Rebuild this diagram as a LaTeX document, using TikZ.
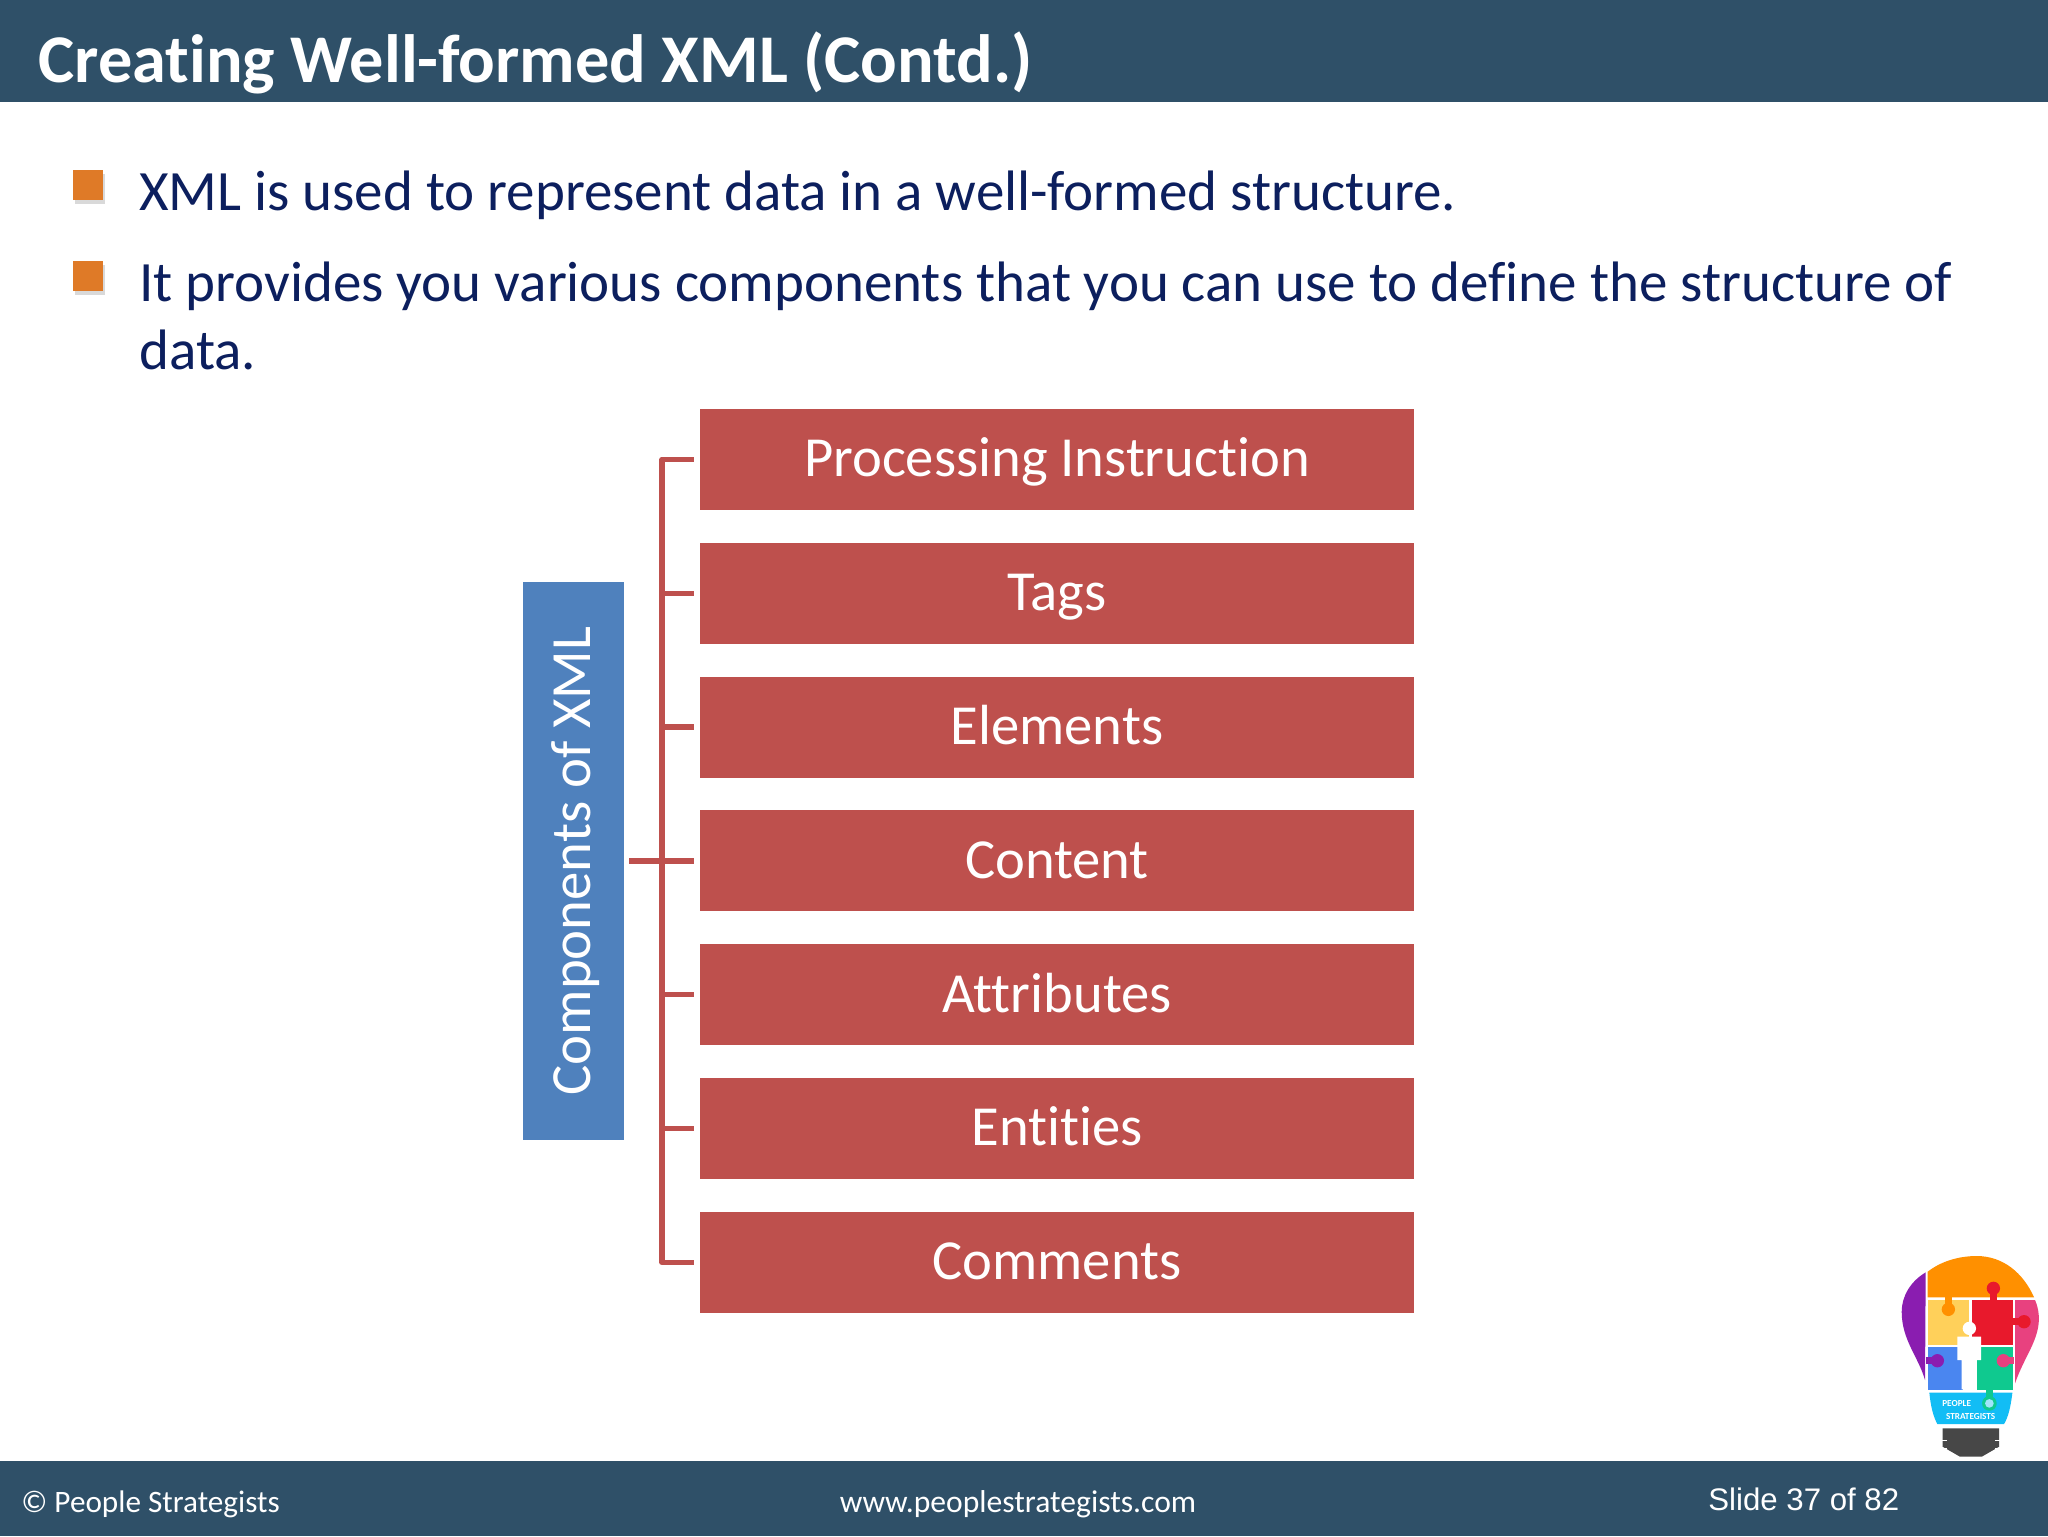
\documentclass[tikz,border=0pt]{standalone}
\usepackage{fontspec}
\setmainfont[Ligatures=NoCommon]{Carlito}
\newfontfamily\arialfont{Liberation Sans}
\definecolor{barblue}{HTML}{2F5068}
\definecolor{boxred}{HTML}{BE504D}
\definecolor{rootblue}{HTML}{4F81BD}
\definecolor{textnavy}{HTML}{0C1F5E}
\definecolor{bulletorange}{HTML}{DF7A27}
\definecolor{logoorange}{HTML}{FF9000}
\definecolor{logoyellow}{HTML}{FFD05A}
\definecolor{logored}{HTML}{E8192C}
\definecolor{logopink}{HTML}{E8417F}
\definecolor{logopurple}{HTML}{8A1DB0}
\definecolor{logoblue}{HTML}{4A86F0}
\definecolor{logogreen}{HTML}{0FC98F}
\definecolor{logocyan}{HTML}{12BDF5}
\tikzset{
  bar/.style={fill=barblue,draw=none},
  bullet/.style={fill=bulletorange,draw=none,minimum size=15pt,inner sep=0pt,anchor=north west},
  bulletshadow/.style={fill=black!15,draw=none,minimum size=15pt,inner sep=0pt,anchor=north west},
  bodytext/.style={anchor=base west,inner sep=0pt,text=textnavy,font=\fontsize{28.5}{34}\selectfont},
  itembox/.style={fill=boxred,text=white,minimum width=357pt,minimum height=50.5pt,inner sep=0pt,text height=21.3pt,text depth=4pt,font=\fontsize{28.3}{34}\selectfont},
  rootbox/.style={fill=rootblue,text=white,rotate=90,minimum width=279pt,minimum height=50.5pt,inner sep=0pt,text height=20.5pt,text depth=4pt,font=\fontsize{28.4}{34}\selectfont},
  branch/.style={draw=boxred,line width=2.75pt,line join=round,shorten <=2.5pt,shorten >=3pt},
  foottext/.style={anchor=base west,inner sep=0pt,text=white,font=\fontsize{15.6}{18}\selectfont},
}
\begin{document}
\begin{tikzpicture}[x=0.5pt,y=-0.5pt]
\useasboundingbox (0,0) rectangle (2048,1536);
\fill[white] (0,0) rectangle (2048,1536);
% header and footer
\fill[bar] (0,0) rectangle (2048,102);
\fill[bar] (0,1461) rectangle (2048,1536);
\node[anchor=base west,inner sep=0pt,text=white,font=\fontsize{34.15}{38}\selectfont\bfseries] (title) at (38,83) {Creating Well-formed XML (Contd.)};
% bullets
\foreach \n/\y in {a/170,b/261} {
  \node[bulletshadow] (shadow\n) at (75,\y+4) {};
  \node[bullet] (bullet\n) at (73,\y) {};
}
\node[bodytext] (linea) at (139,210) {XML is used to represent data in a well-formed structure.};
\node[bodytext] (lineb) at (139,301) {It provides you various components that you can use to define the structure of};
\node[bodytext] (linec) at (139,369) {data.};
% components
\node[rootbox] (root) at (573.5,861) {Components of XML};
\coordinate (trunk) at (662,861);
\foreach \i/\t in {1/Processing Instruction,2/Tags,3/Elements,4/Content,5/Attributes,6/Entities,7/Comments} {
  \node[itembox] (box\i) at (1057,325.7+\i*133.8) {\t};
  \draw[branch] (root.south) -- (trunk) |- (box\i.west);
}
% footer texts
\node[foottext] (copy) at (21,1512) {© People Strategists};
\node[foottext,anchor=base,font=\fontsize{15.8}{18}\selectfont] (web) at (1018,1512) {www.peoplestrategists.com};
\node[anchor=base west,inner sep=0pt,text=white,font=\fontsize{15.6}{18}\selectfont\arialfont] (slide) at (1708,1510) {Slide 37 of 82};
% logo
\begin{scope}[shift={(1880,1240)},x=0.1667pt,y=-0.1667pt]
\fill[black!72] (188,565) -- (357,565) -- (357,620) -- (305,650) -- (240,650) -- (188,620) -- cycle;
\foreach \y in {600,625} \draw[white,line width=0.5pt] (185,\y) -- (200,\y) (345,\y) -- (360,\y);
\fill[logocyan] (148,458) -- (397,458) .. controls (392,500) and (385,530) .. (372,552) -- (172,552) .. controls (160,530) and (152,500) .. (148,458) -- cycle;
\node[inner sep=0pt,text=white,font=\fontsize{4.6}{5}\selectfont\bfseries] (logoa) at (230,490) {PEOPLE};
\node[inner sep=0pt,text=white,font=\fontsize{4.6}{5}\selectfont\bfseries] (logob) at (272,528) {STRATEGISTS};
\fill[logopurple] (137,97) .. controls (90,125) and (65,170) .. (65,215) .. controls (65,300) and (115,350) .. (135,420) -- cycle;
\fill[logoorange] (143,172) -- (143,95) .. controls (185,62) and (240,48) .. (290,48) .. controls (370,48) and (430,100) .. (462,172) -- cycle;
\fill[logoyellow] (143,180) rectangle (268,315);
\fill[logoorange] (205,208) circle (20);
\fill[logoorange] (195,172) rectangle (215,205);
\fill[logored] (275,180) rectangle (400,315);
\fill[logored] (340,145) circle (20);
\fill[logored] (330,150) rectangle (350,182);
\fill[logopink] (405,180) -- (465,180) .. controls (490,240) and (470,290) .. (445,340) .. controls (430,370) and (415,400) .. (405,430) -- cycle;
\fill[logored] (432,245) circle (20);
\fill[logored] (398,235) rectangle (430,255);
\fill[logoblue] (143,322) rectangle (250,450);
\fill[logopurple] (172,362) circle (20);
\fill[logopurple] (138,352) rectangle (170,372);
\fill[logogreen] (290,322) rectangle (400,450);
\fill[logopink] (370,362) circle (20);
\fill[logopink] (370,352) rectangle (402,372);
\fill[logogreen] (318,448) rectangle (338,470);
\fill[logogreen] (328,490) circle (22);
\fill[logocyan!40!white] (328,490) circle (13);
\fill[white] (268,265) circle (20);
\fill[white] (232,290) -- (303,290) -- (303,360) -- (290,360) -- (290,448) -- (245,448) -- (245,360) -- (232,360) -- cycle;
\end{scope}
\end{tikzpicture}
\end{document}
